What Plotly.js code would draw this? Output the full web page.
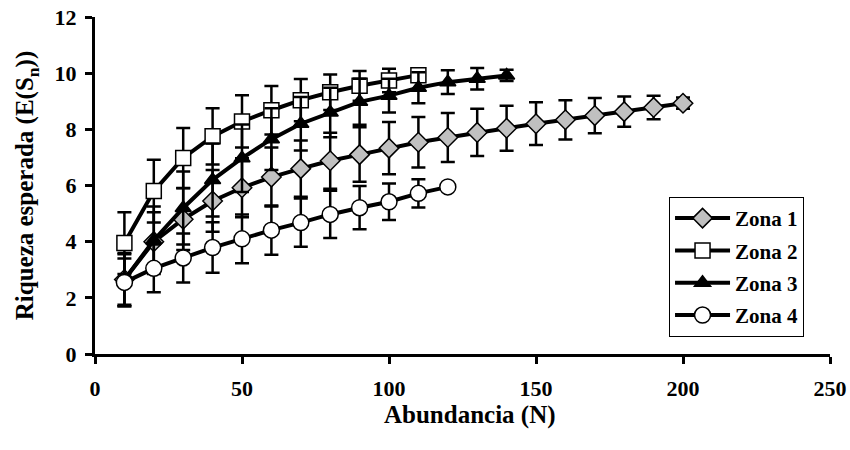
<!DOCTYPE html>
<html>
<head>
<meta charset="utf-8">
<script src="https://cdn.plot.ly/plotly-3.0.1.min.js"></script>
<style>html,body{margin:0;padding:0;background:#fff;}#chart{width:850px;height:450px;}</style>
</head>
<body>
<div id="chart"></div>
<script>
const seriesNames = ["Zona 1", "Zona 2", "Zona 3", "Zona 4"];
const xTitle = "Abundancia (N)";
const yTitle = "Riqueza esperada (E(S<sub>n</sub>))";

const x1 = [10,20,30,40,50,60,70,80,90,100,110,120,130,140,150,160,170,180,190,200];
const y1 = [2.65,4.0,4.8,5.45,5.92,6.3,6.6,6.88,7.1,7.33,7.54,7.71,7.89,8.04,8.2,8.34,8.49,8.63,8.78,8.93];
const e1 = [0.9,1.05,1.1,1.1,1.05,1.05,1.0,1.0,0.97,0.93,0.9,0.87,0.84,0.8,0.76,0.7,0.63,0.54,0.42,0.2];

const x2 = [10,20,30,40,50,60,70,80,90,100,110];
const y2 = [3.95,5.8,6.98,7.75,8.28,8.68,9.04,9.32,9.55,9.74,9.93];
const e2 = [1.1,1.12,1.07,1.0,0.93,0.86,0.75,0.63,0.53,0.42,0.22];

const x3 = [10,20,30,40,50,60,70,80,90,100,110,120,130,140];
const y3 = [2.65,4.05,5.2,6.2,6.97,7.65,8.2,8.6,8.98,9.2,9.48,9.68,9.8,9.92];
const e3 = [0.95,1.2,1.3,1.3,1.2,1.1,0.95,0.88,0.82,0.6,0.55,0.42,0.38,0.2];

const x4 = [10,20,30,40,50,60,70,80,90,100,110,120];
const y4 = [2.55,3.05,3.42,3.79,4.1,4.41,4.68,4.97,5.21,5.42,5.72,5.95];
const e4 = [0.85,0.85,0.87,0.9,0.87,0.88,0.86,0.84,0.77,0.65,0.5,0.0];

const xTicks = [0,50,100,150,200,250];
const yTicks = [0,2,4,6,8,10,12];

const serif = "Liberation Serif, Times New Roman, serif";

function mk(name, x, y, e, symbol, fill, size, group) {
  return {
    type: "scatter", mode: "lines+markers", name: name, x: x, y: y,
    legendgroup: group,
    line: {color: "#000", width: 4},
    marker: {symbol: symbol, size: size, color: fill, line: {color: "#000", width: 1.5}},
    error_y: {type: "data", array: e, visible: true, color: "#000", thickness: 2.5, width: 7}
  };
}

const data = [
  mk(seriesNames[0], x1, y1, e1, "diamond", "#c0c0c0", 15, "g1"),
  mk(seriesNames[1], x2, y2, e2, "square", "#ffffff", 15, "g2"),
  mk(seriesNames[2], x3, y3, e3, "triangle-up", "#000000", 14, "g3"),
  mk(seriesNames[3], x4, y4, e4, "circle", "#ffffff", 16, "g4")
];

const layout = {
  width: 850, height: 450,
  margin: {l: 95, r: 20, t: 17, b: 96},
  paper_bgcolor: "#fff", plot_bgcolor: "#fff",
  font: {family: serif, color: "#000", size: 22, weight: "bold"},
  showlegend: true,
  legend: {
    x: 0.781, y: 0.466, xanchor: "left", yanchor: "top",
    bgcolor: "#fff", bordercolor: "#000", borderwidth: 1,
    font: {family: serif, size: 21, color: "#000", weight: "bold"},
    traceorder: "grouped", tracegroupgap: 2, itemwidth: 55
  },
  xaxis: {
    range: [0, 250], tickvals: xTicks, ticktext: xTicks.map(String),
    showgrid: false, zeroline: false, showline: true, linecolor: "#000", linewidth: 3,
    ticks: "outside", ticklen: 7, tickwidth: 3, tickcolor: "#000",
    ticklabelstandoff: 6,
    tickfont: {family: serif, size: 22, weight: "bold"}
  },
  yaxis: {
    range: [0, 12], tickvals: yTicks, ticktext: yTicks.map(String),
    showgrid: false, zeroline: false, showline: true, linecolor: "#000", linewidth: 3,
    ticks: "outside", ticklen: 7, tickwidth: 3, tickcolor: "#000",
    ticklabelstandoff: 4,
    tickfont: {family: serif, size: 22, weight: "bold"},
    title: {text: yTitle, font: {family: serif, size: 25, weight: "bold"}, standoff: 14}
  },
  annotations: [{
    text: xTitle, xref: "paper", yref: "paper", x: 0.51, y: -0.18,
    xanchor: "center", yanchor: "middle", showarrow: false,
    font: {family: serif, size: 25, color: "#000", weight: "bold"}
  }]
};

Plotly.newPlot("chart", data, layout, {displayModeBar: false, staticPlot: true});
</script>
</body>
</html>
